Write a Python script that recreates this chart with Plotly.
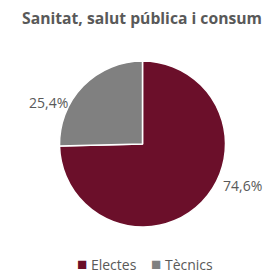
import math
import plotly.graph_objects as go

title = "Sanitat, salut pública i consum"
categories = ["Electes", "Tècnics"]
values = [74.6, 25.4]
colors = ["#6b0f2a", "#808080"]

W, H = 266, 275
cx, cy, r = 142.5, 144, 83  # pixel geometry of pie
FONT = "Open Sans"
TXT = "#595959"

fig = go.Figure()
fig.add_trace(go.Pie(
    labels=categories, values=values, sort=False, direction="clockwise", rotation=0,
    marker=dict(colors=colors, line=dict(color="white", width=1.5)),
    textinfo="none", hoverinfo="label+percent", showlegend=False,
    domain=dict(x=[(cx - r) / W, (cx + r) / W], y=[(H - cy - r) / H, (H - cy + r) / H]),
))

# outside data labels
total = sum(values)
start = 0.0
for v in values:
    mid = start + v / 2
    ang = 2 * math.pi * mid / total
    s, c = math.sin(ang), math.cos(ang)
    lx = cx + 90 * s + (14 if s > 0 else -8)
    ly = cy - 60 * c
    fig.add_annotation(x=lx / W, y=1 - ly / H, xref="paper", yref="paper",
                       xanchor="left" if s > 0 else "right", yanchor="middle",
                       text=f"{v:.1f}%".replace(".", ","), showarrow=False,
                       font=dict(family=FONT, size=14, color=TXT))
    start += v

# legend (custom, compact)
leg_y = 1 - 263 / H
leg_x = [75, 149]
for name, col, x0 in zip(categories, colors, leg_x):
    fig.add_annotation(x=x0 / W, y=leg_y, xref="paper", yref="paper", xanchor="left", yanchor="middle",
                       text=f"<span style='color:{col};font-size:17px'>■</span> {name}", showarrow=False,
                       font=dict(family=FONT, size=14, color=TXT))

fig.update_layout(
    width=W, height=H, margin=dict(l=0, r=0, t=0, b=0),
    paper_bgcolor="white", plot_bgcolor="white",
    title=dict(text="<b>" + title + "</b>", x=142 / W, xanchor="center", y=1 - 19 / H, yanchor="middle",
               font=dict(family=FONT, size=15.7, color=TXT)),
    showlegend=False,
)
fig.write_html("out.html", config={"displayModeBar": False},
               post_script="document.body.style.margin='0';document.body.style.overflow='hidden';")
